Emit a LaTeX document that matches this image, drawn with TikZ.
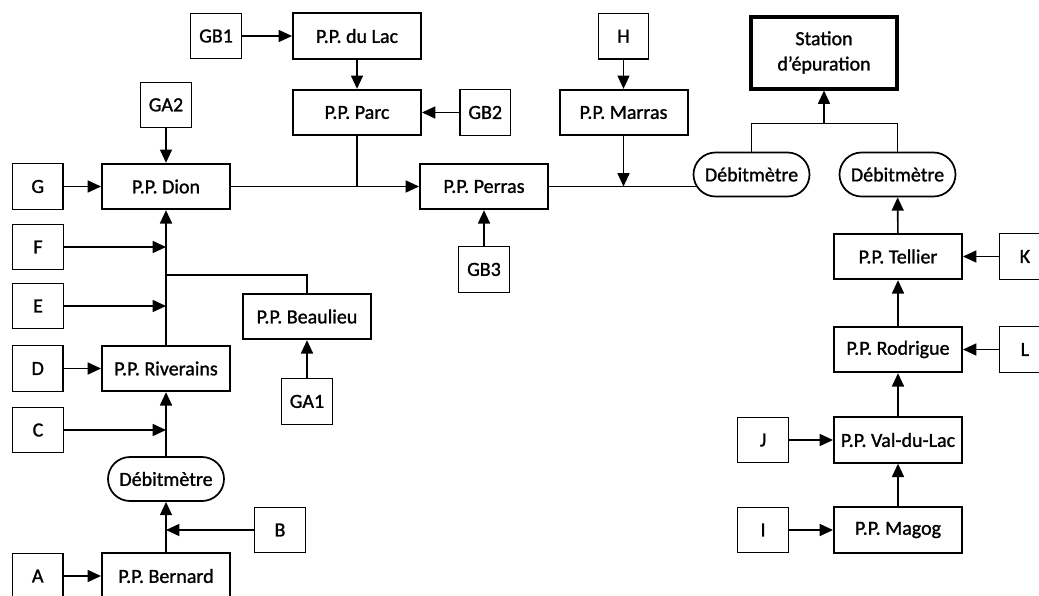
\documentclass[tikz,border=0pt]{standalone}
\usepackage{fontspec}
\setmainfont{Carlito}[FakeBold=1.2]
\usepackage{tikz}
\usetikzlibrary{
  arrows.meta,
  calc,
  positioning,
  shapes.misc
}
\tikzset{
  pp/.style={draw,line width=1.5pt,minimum width=96pt,minimum height=34pt,
    inner sep=2pt,font=\fontsize{15}{18}\selectfont},
  src/.style={draw,line width=0.9pt,minimum width=38pt,minimum height=34pt,
    inner sep=2pt,font=\fontsize{15}{18}\selectfont},
  meter/.style={draw,line width=1.3pt,rounded rectangle,minimum width=91pt,
    minimum height=33pt,inner sep=2pt,font=\fontsize{15}{18}\selectfont},
  plant/.style={draw,line width=3pt,minimum width=110pt,minimum height=54pt,
    align=center,font=\fontsize{15}{19}\selectfont},
  feed/.style={-{Triangle[length=10pt,width=9pt]},line width=1.2pt},
  pipe/.style={line width=1.2pt}
}

\begin{document}
\begin{tikzpicture}[x=0.75pt,y=-0.75pt,node distance=28pt]
  \useasboundingbox (0,0) rectangle (1039,596);

  % left branch
  \node[pp] (dion) at (166,186.5) {P.P. Dion};
  \node[pp] (riverains) at (166,368.5) {P.P. Riverains};
  \node[meter] (debA) at (166,479) {Débitmètre};
  \node[pp] (bernard) at (166,576) {P.P. Bernard};
  \node[pp] (beaulieu) at (307,316.5) {P.P. Beaulieu};
  \node[src,left=of dion] (g) {G};
  \node[src,above=26pt of dion] (gatwo) {GA2};
  \node[src] (f) at (38,247) {F};
  \node[src] (e) at (38,306) {E};
  \node[src,left=of riverains] (d) {D};
  \node[src] (c) at (38,430) {C};
  \node[src] (b) at (280,530) {B};
  \node[src,left=of bernard] (a) {A};
  \node[src,below=28.5pt of beaulieu] (gaone) {GA1};

  % upper branch
  \node[pp] (dulac) at (357,36) {P.P. du Lac};
  \node[pp] (parc) at (357,112.5) {P.P. Parc};
  \node[pp] (perras) at (484,186.5) {P.P. Perras};
  \node[pp] (marras) at (623.5,112.5) {P.P. Marras};
  \node[src,left=37.5pt of dulac] (gbone) {GB1};
  \node[src,right=of parc] (gbtwo) {GB2};
  \node[src,below=27pt of perras] (gbthree) {GB3};
  \node[src,above=22pt of marras] (h) {H};

  % right branch
  \node[plant] (station) at (824,52.5) {Station\\d'épuration};
  \node[meter] (debB) at (751.5,174.5) {Débitmètre};
  \node[meter] (debC) at (897.5,174.5) {Débitmètre};
  \node[pp] (tellier) at (898,256.5) {P.P. Tellier};
  \node[pp] (rodrigue) at (898,349.5) {P.P. Rodrigue};
  \node[pp] (valdulac) at (898,440) {P.P. Val-du-Lac};
  \node[pp] (magog) at (898,530) {P.P. Magog};
  \node[src,right=27pt of tellier] (k) {K};
  \node[src,right=27pt of rodrigue] (l) {L};
  \node[src,left=33pt of valdulac] (j) {J};
  \node[src,left=33pt of magog] (i) {I};

  \coordinate (jb) at (bernard.north |- b.west);
  \coordinate (jc) at (riverains.south |- c.east);
  \coordinate (je) at (dion.south |- e.east);
  \coordinate (jf) at (dion.south |- f.east);
  \coordinate (jbeau) at (166,275);
  \coordinate (jparc) at (parc.south |- dion.east);
  \coordinate (jmarras) at (marras.south |- perras.east);
  \coordinate (debBin) at ($(debB.west)+(3.5,12)$);
  \coordinate (jtop) at ($(station.south)+(0,33)$);

  \draw[feed] (a) -- (bernard);
  \draw[feed] (bernard) -- (debA);
  \draw[feed] (b) -- (jb);
  \draw[feed] (debA) -- (riverains);
  \draw[feed] (c) -- (jc);
  \draw[feed] (d) -- (riverains);
  \draw[feed] (riverains) -- (dion);
  \draw[feed] (e) -- (je);
  \draw[feed] (f) -- (jf);
  \draw[pipe] (jbeau) -| (beaulieu);
  \draw[feed] (gaone) -- (beaulieu);
  \draw[feed] (g) -- (dion);
  \draw[feed] (gatwo) -- (dion);

  \draw[feed] (gbone) -- (dulac);
  \draw[feed] (dulac) -- (parc);
  \draw[feed] (gbtwo) -- (parc);
  \draw[pipe] (parc) -- (jparc);
  \draw[feed] (dion) -- (perras);
  \draw[feed] (gbthree) -- (perras);
  \draw[feed] (h) -- (marras);
  \draw[feed] (marras) -- (jmarras);
  \draw[pipe] (perras.east) -- (debBin);

  \draw[pipe] (debB.north) |- (jtop) -| (debC.north);
  \draw[feed] (jtop) -- (station);
  \draw[feed] (tellier) -- (debC);
  \draw[feed] (k) -- (tellier);
  \draw[feed] (rodrigue) -- (tellier);
  \draw[feed] (l) -- (rodrigue);
  \draw[feed] (valdulac) -- (rodrigue);
  \draw[feed] (j) -- (valdulac);
  \draw[feed] (magog) -- (valdulac);
  \draw[feed] (i) -- (magog);
\end{tikzpicture}
\end{document}
